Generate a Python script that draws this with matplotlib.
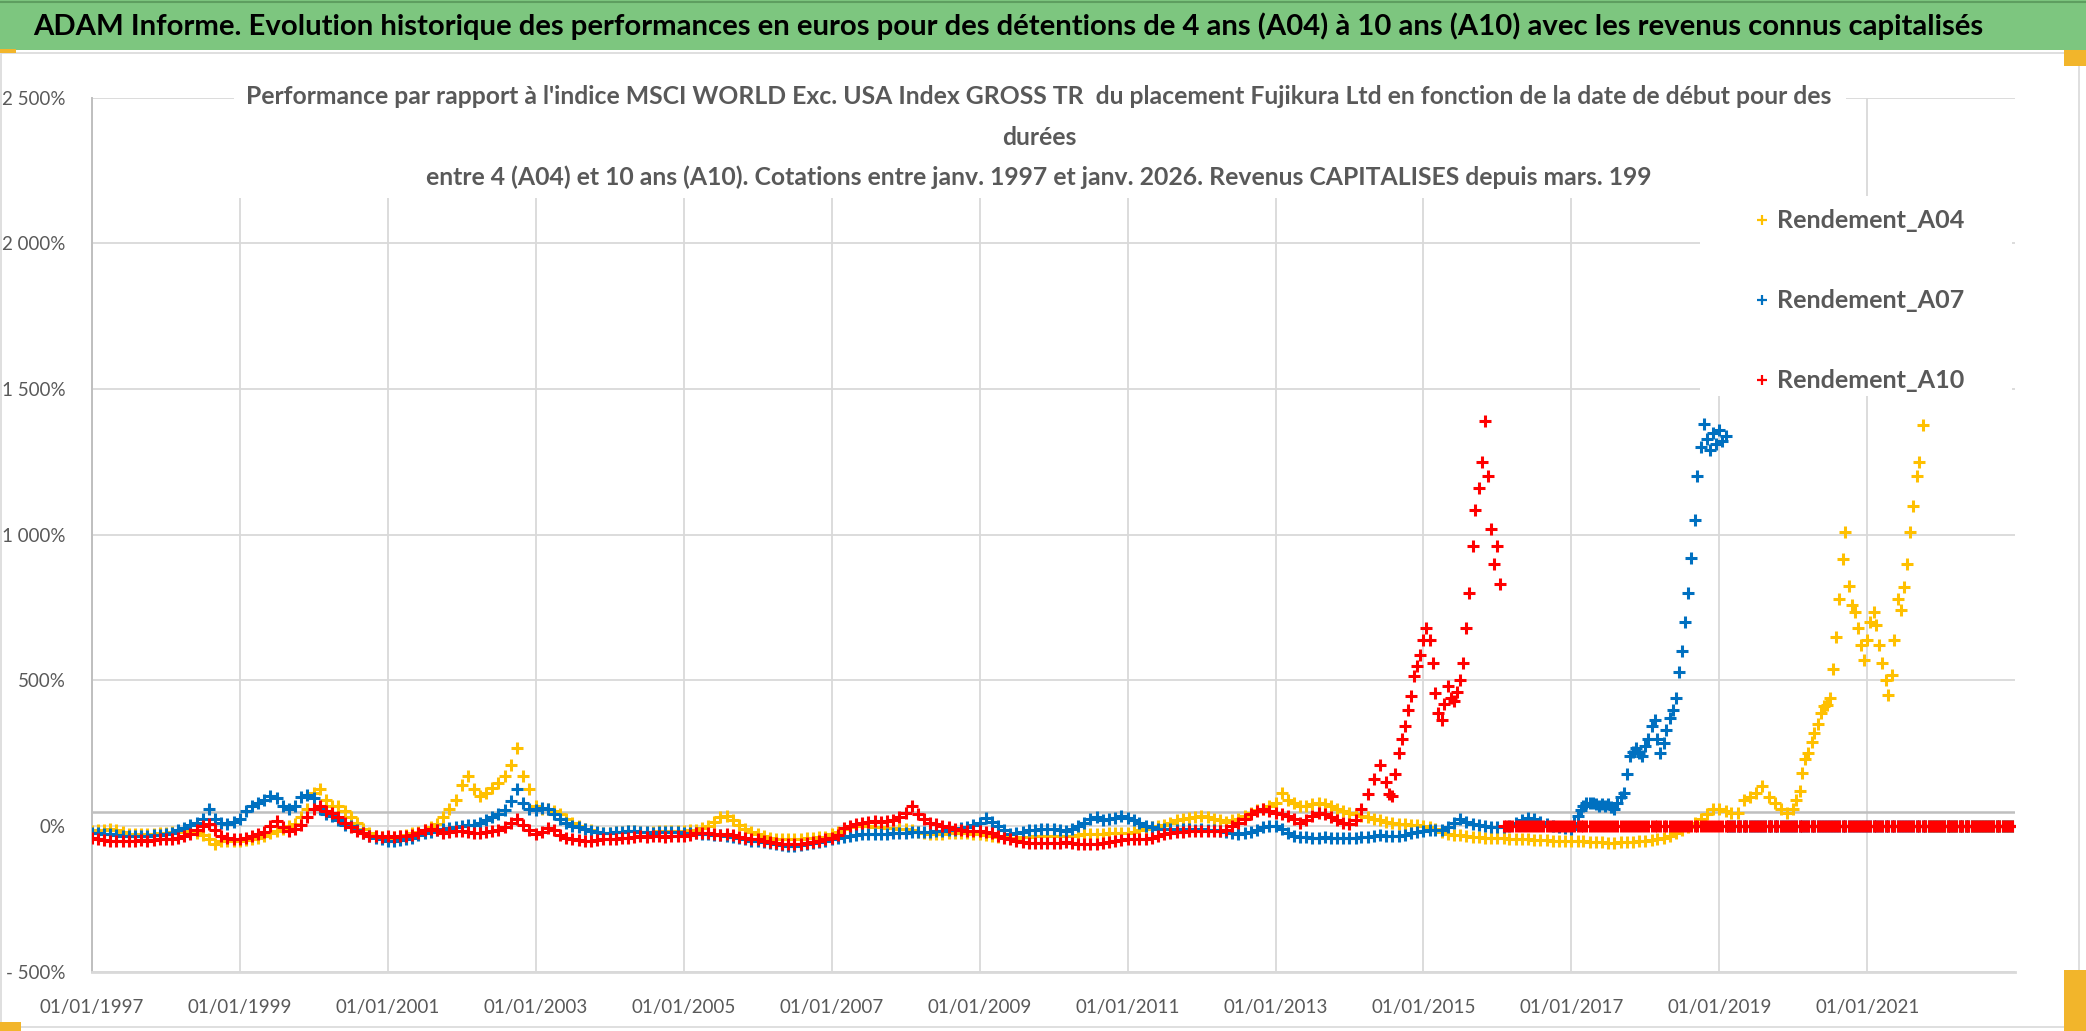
import numpy as np
import pandas as pd
import matplotlib
matplotlib.use("Agg")
import matplotlib.pyplot as plt
import matplotlib.dates as mdates
import matplotlib.ticker as mticker
from matplotlib.patches import Rectangle
from matplotlib.lines import Line2D

# ---------------- DATA (values in %) ----------------
series_names = ["Rendement_A04", "Rendement_A07", "Rendement_A10"]

# A04 : monthly values 1997-01 .. 2019-12
a04_monthly_start = "1997-01-01"
a04_monthly = [
    -17, -15, -12, -11, -15, -22, -29, -29, -28, -28, -27, -25,      # 1997
    -23, -22, -20, -18, -20, -23, -30, -45, -60, -51, -50, -51,      # 1998
    -50, -48, -45, -40, -35, -25, -17, -10, 0, 6, 30, 57,            # 1999
    114, 126, 90, 68, 68, 50, 30, 10, -10, -25, -34, -38,            # 2000
    -40, -38, -35, -30, -25, -20, -15, -5, 6, 30, 60, 91,            # 2001
    140, 171, 126, 103, 115, 130, 148, 171, 210, 268, 171, 126,      # 2002
    70, 57, 60, 50, 40, 23, 10, 0, -10, -15, -20, -23,               # 2003
    -23, -22, -20, -18, -18, -20, -20, -19, -18, -18, -17, -17,      # 2004
    -17, -15, -12, -8, 0, 15, 30, 34, 20, 5, -10, -20,               # 2005
    -29, -35, -40, -44, -46, -46, -46, -44, -42, -40, -38, -36,      # 2006
    -29, -20, -10, -5, 0, 0, 0, -3, -5, -6, -8, -11,                 # 2007
    -11, -15, -20, -25, -29, -28, -27, -25, -23, -24, -25, -28,      # 2008
    -29, -31, -33, -36, -38, -40, -40, -38, -36, -35, -34, -34,      # 2009
    -34, -34, -34, -33, -31, -29, -28, -27, -26, -25, -24, -23,      # 2010
    -23, -20, -15, -10, -5, 0, 5, 12, 20, 25, 29, 32,                # 2011
    34, 30, 25, 20, 15, 20, 25, 34, 45, 55, 57, 70,                  # 2012
    80, 114, 90, 80, 70, 68, 75, 80, 75, 70, 60, 50,                 # 2013
    46, 40, 35, 30, 25, 20, 15, 11, 8, 6, 5, 2,                      # 2014
    0, -5, -10, -20, -29, -30, -32, -34, -36, -38, -40, -40,         # 2015
    -40, -42, -44, -45, -46, -46, -47, -48, -48, -50, -50, -51,      # 2016
    -51, -52, -53, -54, -55, -56, -57, -57, -56, -55, -54, -52,      # 2017
    -50, -48, -45, -40, -35, -25, -15, -5, 10, 23, 40, 57,           # 2018
    57, 50, 45, 46, 91, 100, 114, 137, 100, 80, 60, 46,              # 2019
]
# A04 : semi-monthly values 2020-01-01 .. 2021-10-01
a04_fine_start = "2020-01-01"
a04_fine = [
    60, 91, 120, 183, 230, 251, 290, 320, 350, 388,
    411, 415, 440, 540, 650, 780, 917, 1008, 825, 760,
    735, 680, 620, 570, 640, 700, 735, 690, 620, 560,
    500, 450, 520, 640, 780, 740, 820, 900, 1010, 1100,
    1200, 1250, 1375,
]
a04_zero_start = "2021-10-15"

# A07 : monthly values 1997-01 .. 2016-12
a07_monthly_start = "1997-01-01"
a07_monthly = [
    -23, -25, -28, -29, -32, -34, -34, -33, -34, -34, -32, -30,      # 1997
    -29, -25, -15, -6, 5, 10, 23, 60, 25, 11, 8, 15,                 # 1998
    23, 50, 68, 80, 91, 103, 95, 68, 57, 70, 100, 108,               # 1999
    95, 60, 40, 34, 20, 5, 0, -15, -25, -34, -40, -45,               # 2000
    -51, -50, -48, -46, -40, -30, -23, -20, -15, -11, -8, -5,        # 2001
    0, 3, 5, 11, 20, 30, 40, 55, 85, 126, 80, 60,                    # 2002
    55, 63, 60, 40, 23, 10, 0, -5, -11, -17, -20, -23,               # 2003
    -23, -22, -20, -18, -18, -20, -22, -23, -22, -20, -20, -22,      # 2004
    -23, -24, -25, -27, -29, -30, -32, -35, -38, -42, -46, -50,      # 2005
    -51, -55, -58, -62, -65, -68, -68, -65, -62, -58, -54, -50,      # 2006
    -46, -42, -38, -35, -32, -29, -29, -28, -27, -26, -25, -24,      # 2007
    -23, -22, -21, -20, -19, -18, -17, -15, -12, -8, -2, 5,          # 2008
    11, 29, 15, 0, -15, -29, -25, -20, -15, -12, -10, -11,           # 2009
    -11, -15, -17, -10, 0, 10, 23, 30, 20, 25, 29, 35,               # 2010
    29, 20, 10, 0, -5, -10, -11, -11, -12, -11, -11, -12,            # 2011
    -11, -12, -14, -17, -20, -25, -29, -25, -20, -12, -5, 0,         # 2012
    0, -10, -25, -34, -36, -38, -40, -40, -38, -40, -40, -40,        # 2013
    -40, -40, -38, -36, -34, -32, -34, -35, -34, -30, -25, -20,      # 2014
    -17, -15, -14, -12, -5, 10, 23, 15, 8, 5, 0, -3,                 # 2015
    -5, -5, 0, 10, 20, 29, 25, 15, 8, 0, -5, -8,                     # 2016
]
# A07 : semi-monthly values 2017-01-01 .. 2019-02-01
a07_fine_start = "2017-01-01"
a07_fine = [
    -11, 10, 34, 55, 70, 80, 78, 80, 74, 70,
    74, 70, 74, 65, 57, 80, 100, 114, 180, 240,
    255, 268, 250, 240, 274, 300, 342, 365, 300, 250,
    285, 330, 370, 400, 440, 530, 600, 700, 800, 920,
    1050, 1200, 1300, 1380, 1330, 1290, 1350, 1310, 1360, 1320,
    1340,
]
a07_zero_start = "2019-02-15"

# A10 : monthly values 1997-01 .. 2014-06
a10_monthly_start = "1997-01-01"
a10_monthly = [
    -40, -45, -48, -50, -52, -50, -52, -50, -48, -50, -47, -45,      # 1997
    -46, -44, -40, -34, -28, -15, 0, 8, -15, -34, -40, -44,          # 1998
    -46, -40, -35, -29, -20, 0, 17, -5, -17, -10, 5, 30,             # 1999
    57, 68, 50, 46, 30, 11, -5, -17, -25, -34, -34, -36,             # 2000
    -34, -36, -34, -35, -30, -25, -15, -11, -15, -23, -20, -17,      # 2001
    -17, -20, -23, -23, -20, -17, -15, -5, 10, 23, 5, -15,           # 2002
    -29, -20, -6, -15, -30, -40, -45, -48, -51, -51, -48, -46,       # 2003
    -46, -45, -42, -40, -38, -34, -36, -35, -34, -36, -35, -34,      # 2004
    -34, -30, -25, -23, -25, -28, -30, -28, -32, -38, -42, -46,      # 2005
    -46, -50, -55, -58, -60, -63, -63, -60, -58, -55, -50, -45,      # 2006
    -40, -30, -6, 0, 8, 11, 14, 17, 15, 17, 20, 30,                  # 2007
    45, 68, 40, 25, 10, 6, 0, -5, -10, -15, -17, -17,                # 2008
    -17, -20, -25, -34, -40, -45, -51, -55, -57, -57, -57, -57,      # 2009
    -57, -57, -55, -58, -60, -63, -63, -60, -58, -55, -52, -48,      # 2010
    -46, -46, -46, -44, -40, -35, -28, -23, -20, -20, -18, -17,      # 2011
    -17, -17, -17, -17, -12, 0, 11, 25, 40, 50, 57, 50,              # 2012
    46, 40, 35, 25, 11, 20, 35, 46, 40, 30, 20, 10,                  # 2013
    6, 20, 60, 110, 160, 211,                                        # 2014 H1
]
# A10 : semi-monthly values 2014-07-01 .. 2016-01-15
a10_fine_start = "2014-07-01"
a10_fine = [
    150, 110, 103, 180, 250, 300, 342, 400, 445, 514,
    550, 588, 640, 680, 640, 560, 457, 389, 365, 420,
    480, 440, 430, 460, 500, 560, 680, 800, 960, 1085,
    1160, 1250, 1390, 1200, 1020, 900, 960, 830,
]
a10_zero_start = "2016-02-01"

data_end = "2022-12-31"
zero_level = 0.0

y_ticks = [-500, 0, 500, 1000, 1500, 2000, 2500]
x_tick_years = list(range(1997, 2023, 2))
x_start, x_end = "1997-01-01", "2022-12-31"

title = ("ADAM Informe. Evolution historique des performances en euros pour des "
         "détentions de 4 ans (A04) à 10 ans (A10) avec les revenus connus capitalisés")
sub1 = ("Performance par rapport à l'indice MSCI WORLD Exc. USA Index GROSS TR  du placement "
        "Fujikura Ltd en fonction de la date de début pour des")
sub2 = "durées"
sub3 = ("entre 4 (A04) et 10 ans (A10). Cotations entre janv. 1997 et janv. 2026. "
        "Revenus CAPITALISES depuis mars. 199")

colors = ["#FFC000", "#0070C0", "#FF0000"]


def build(monthly_start, monthly, fine_start, fine, zero_start):
    d1 = pd.date_range(monthly_start, periods=len(monthly), freq="MS")
    d2 = pd.date_range(fine_start, periods=len(fine), freq="SMS")
    d3 = pd.date_range(zero_start, data_end, freq="SMS")
    dates = d1.append(d2).append(d3)
    vals = np.concatenate([np.asarray(monthly, float), np.asarray(fine, float),
                           np.full(len(d3), zero_level)])
    return dates, vals


series = [
    build(a04_monthly_start, a04_monthly, a04_fine_start, a04_fine, a04_zero_start),
    build(a07_monthly_start, a07_monthly, a07_fine_start, a07_fine, a07_zero_start),
    build(a10_monthly_start, a10_monthly, a10_fine_start, a10_fine, a10_zero_start),
]

# ---------------- FIGURE ----------------
W, H, DPI = 2086, 1031, 100
FONT = ["Lato", "DejaVu Sans"]
plt.rcParams["font.family"] = FONT
fig = plt.figure(figsize=(W / DPI, H / DPI), dpi=DPI)
fig.patch.set_facecolor("white")


def fx(x):
    return x / W


def fy(y):
    return 1 - y / H


ax_left, ax_right, ax_top, ax_bot = 92, 2015, 97.7, 971.7
ax = fig.add_axes([fx(ax_left), fy(ax_bot), (ax_right - ax_left) / W, (ax_bot - ax_top) / H])
ax.set_facecolor("none")

for (d, v), c, name in zip(series, colors, series_names):
    ax.plot(d, v, linestyle="none", marker="+", markersize=9, markeredgewidth=2.2,
            color=c, label=name, zorder=3)

ax.set_xlim(pd.Timestamp(x_start), pd.Timestamp(x_end))
ax.set_ylim(-500, 2500)
ax.set_yticks(y_ticks)
ax.set_xticks([pd.Timestamp(f"{y}-01-01") for y in x_tick_years])


def yfmt(v, pos):
    v = int(round(v))
    s = f"{abs(v):,}".replace(",", " ")
    return ("- " if v < 0 else "") + s + "%"


ax.yaxis.set_major_formatter(mticker.FuncFormatter(yfmt))
ax.xaxis.set_major_formatter(mdates.DateFormatter("%d/%m/%Y"))

ax.grid(True, color="#D9D9D9", linewidth=1.3)
ax.set_axisbelow(True)
for s in ["top", "right"]:
    ax.spines[s].set_visible(False)
ax.spines["left"].set_color("#BFBFBF")
ax.spines["left"].set_linewidth(1.4)
ax.spines["bottom"].set_color("#D9D9D9")
ax.spines["bottom"].set_linewidth(2.0)
ax.tick_params(axis="both", length=0, labelsize=13.5, labelcolor="#595959")
ax.tick_params(axis="y", pad=19)
ax.tick_params(axis="x", pad=20)
ax.axhline(48, color="#BFBFBF", linewidth=1.8, zorder=1)

# ---------------- decorations ----------------
fig.patches.append(Rectangle((fx(1), fy(1027)), (2079 - 1) / W, (1027 - 53) / H,
                             transform=fig.transFigure, facecolor="none",
                             edgecolor="#D9D9D9", linewidth=1.2, zorder=0.5))
fig.patches.append(Rectangle((0, fy(50)), 1, 50 / H, transform=fig.transFigure,
                             facecolor="#7DC67F", edgecolor="none", zorder=1))
fig.add_artist(Line2D([0, 1], [fy(1.5), fy(1.5)], transform=fig.transFigure,
                      color="#5E9E60", linewidth=1.5, zorder=1.1))
fig.patches.append(Rectangle((fx(234), fy(198)), (1846 - 234) / W, (198 - 56) / H,
                             transform=fig.transFigure, facecolor="white",
                             edgecolor="none", zorder=1))
fig.patches.append(Rectangle((fx(1700), fy(396)), (2012 - 1700) / W, (396 - 196) / H,
                             transform=fig.transFigure, facecolor="white",
                             edgecolor="none", zorder=1))
for (x0, y0, w0, h0) in [(0, 49, 16, 4), (2064, 50, 22, 16), (2064, 970, 22, 61), (0, 1022, 21, 9)]:
    fig.patches.append(Rectangle((fx(x0), fy(y0 + h0)), w0 / W, h0 / H,
                                 transform=fig.transFigure, facecolor="#F2B52B",
                                 edgecolor="none", zorder=1.2))

t_title = fig.text(fx(33), fy(26), title, ha="left", va="center", fontsize=20,
                   fontweight="bold", color="black", zorder=5)
t1 = fig.text(fx(1039), fy(97), sub1, ha="center", va="center", fontsize=16,
              fontweight="bold", color="#595959", zorder=5)
t2 = fig.text(fx(1039), fy(137), sub2, ha="center", va="center", fontsize=16,
              fontweight="bold", color="#595959", zorder=5)
t3 = fig.text(fx(1039), fy(177), sub3, ha="center", va="center", fontsize=16,
              fontweight="bold", color="#595959", zorder=5)

leg_texts = []
for i, (name, c) in enumerate(zip(series_names, colors)):
    yy = 220 + 80 * i
    fig.add_artist(Line2D([fx(1762)], [fy(yy)], transform=fig.transFigure, marker="+",
                          markersize=7, markeredgewidth=1.6, color=c, linestyle="none",
                          zorder=5))
    leg_texts.append(fig.text(fx(1777), fy(yy), name, ha="left", va="center", fontsize=20,
                              fontweight="bold", color="#595959", zorder=5))

fig.canvas.draw()
renderer = fig.canvas.get_renderer()


def fit(t, target_w):
    bb = t.get_window_extent(renderer)
    t.set_fontsize(t.get_fontsize() * target_w / bb.width)


fit(t_title, 1953)
fit(t1, 1596)
t2.set_fontsize(t1.get_fontsize())
t3.set_fontsize(t1.get_fontsize())
for t in leg_texts:
    fit(t, 188)

fig.savefig("out.png", dpi=DPI, facecolor="white")
